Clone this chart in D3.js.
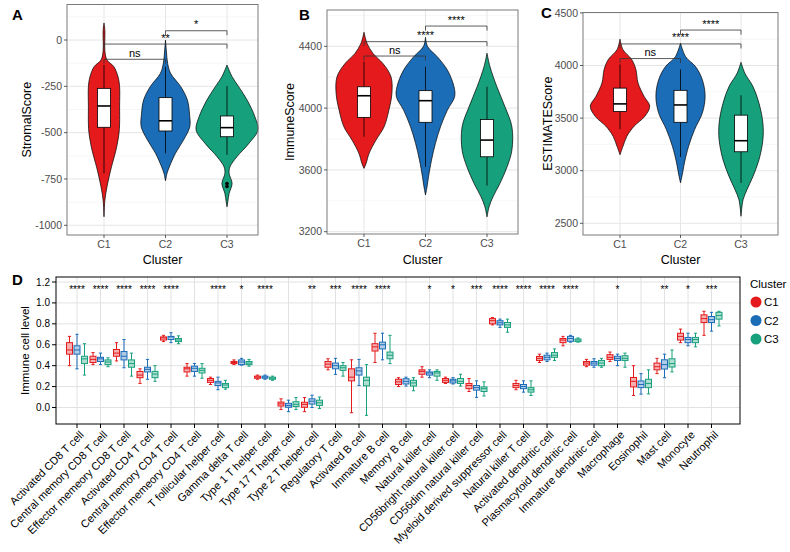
<!DOCTYPE html>
<html>
<head>
<meta charset="utf-8">
<style>
  body { margin: 0; padding: 0; background: #fff; }
  svg { display: block; font-family: Arial, "Liberation Sans", sans-serif; }
</style>
<script src="https://cdnjs.cloudflare.com/ajax/libs/d3/7.8.5/d3.min.js"></script>
</head>
<body>
<svg width="790" height="552"></svg>
<script>
  // ---------- data ----------
  const clusters = ['C1', 'C2', 'C3'];
  const colors = ['#E41A1C', '#1C6DB8', '#17A07C'];

  const stromalTicks = [0, -250, -500, -750, -1000];
  const immuneTicks = [4400, 4000, 3600, 3200];
  const estimateTicks = [4500, 4000, 3500, 3000, 2500];

  // violin outlines: [score, relative density]
  const stromalDensity = [
    [[92,0],[50,0.03],[-60,0.03],[-108,0.1],[-144,0.33],[-200,0.47],[-252,0.52],[-360,0.52],[-450,0.52],[-503,0.5],[-594,0.4],[-684,0.25],[-792,0.1],[-864,0.03],[-954,0]],
    [[0,0],[-60,0.03],[-125,0.07],[-180,0.17],[-252,0.51],[-324,0.73],[-400,0.8],[-468,0.81],[-540,0.6],[-612,0.33],[-684,0.13],[-720,0.05],[-760,0]],
    [[-135,0],[-198,0.17],[-252,0.39],[-324,0.67],[-414,0.93],[-486,1.03],[-558,0.73],[-630,0.33],[-684,0.1],[-720,0.07],[-774,0.17],[-828,0.07],[-870,0.03],[-900,0]]
  ];
  const immuneDensity = [
    [[4491,0],[4420,0.1],[4354,0.3],[4289,0.63],[4203,0.9],[4095,0.93],[3987,0.83],[3879,0.67],[3793,0.4],[3707,0.17],[3642,0.07],[3610,0]],
    [[4458,0],[4398,0.07],[4333,0.39],[4246,0.73],[4138,0.95],[4073,0.97],[3987,0.73],[3879,0.5],[3771,0.33],[3663,0.2],[3555,0.1],[3490,0.05],[3438,0]],
    [[4355,0],[4268,0.1],[4138,0.33],[4008,0.6],[3879,0.83],[3728,0.83],[3620,0.67],[3512,0.43],[3426,0.2],[3361,0.07],[3296,0]]
  ];
  const estimateDensity = [
    [[4250,0],[4150,0.1],[4057,0.39],[3962,0.53],[3835,0.6],[3708,0.8],[3613,0.99],[3518,0.83],[3423,0.47],[3328,0.23],[3232,0.1],[3152,0]],
    [[4212,0],[4084,0.17],[3990,0.5],[3863,0.73],[3708,0.82],[3550,0.73],[3391,0.47],[3232,0.27],[3074,0.13],[2979,0.07],[2884,0]],
    [[4031,0],[3926,0.13],[3800,0.4],[3641,0.6],[3452,0.73],[3294,0.73],[3104,0.6],[2946,0.4],[2820,0.2],[2725,0.07],[2567,0]]
  ];

  // boxes: [lower whisker, q1, median, q3, upper whisker]
  const stromalBox = [[-720,-471,-356,-261,-135], [-612,-491,-436,-311,-144], [-620,-522,-473,-410,-248]];
  const immuneBox = [[3815,3940,4080,4138,4300], [3620,3908,4048,4113,4268], [3498,3685,3793,3926,4138]];
  const estimateBox = [[3395,3563,3635,3785,4010], [3130,3460,3625,3764,3962], [2884,3180,3285,3528,3717]];
  const stromalOutliers = [['C3', -775], ['C3', -790]];

  // comparisons: [from, to, bracket height, label]
  const stromalSig = [['C1','C2',-104,'ns'], ['C1','C3',-22,'**'], ['C2','C3',50,'*']];
  const immuneSig = [['C1','C2',4337,'ns'], ['C1','C3',4430,'****'], ['C2','C3',4531,'****']];
  const estimateSig = [['C1','C2',4066,'ns'], ['C1','C3',4205,'****'], ['C2','C3',4337,'****']];

  const cellTypes = ['Activated CD8 T cell','Central memory CD8 T cell','Effector memeory CD8 T cell','Activated CD4 T cell',
    'Central memory CD4 T cell','Effector memeory CD4 T cell','T follicular helper cell','Gamma delta T cell',
    'Type 1 T helper cell','Type 17 T helper cell','Type 2 T helper cell','Regulatory T cell','Activated B cell',
    'Immature B cell','Memory B cell','Natural killer cell','CD56bright natural killer cell','CD56dim natural killer cell',
    'Myeloid derived suppressor cell','Natural killer T cell','Activated dendritic cell','Plasmacytoid dendritic cell',
    'Immature dendritic cell','Macrophage','Eosinophil','Mast cell','Monocyte','Neutrophil'];
  const cellSig = ['****','****','****','****','****','','****','*','****','','**','***','****','****','',
    '*','*','***','****','****','****','****','','*','','**','*','***'];
  const cellTicks = [0, 0.2, 0.4, 0.6, 0.8, 1.0, 1.2];

  const c1Stats = [[0.40,0.51,0.55,0.62,0.68],[0.41,0.43,0.46,0.49,0.525],[0.445,0.49,0.52,0.555,0.62],[0.23,0.285,0.31,0.345,0.37],
    [0.63,0.645,0.665,0.675,0.69],[0.30,0.34,0.37,0.385,0.42],[0.22,0.24,0.26,0.277,0.29],[0.41,0.42,0.43,0.44,0.455],
    [0.27,0.28,0.29,0.30,0.31],[-0.02,0.014,0.035,0.052,0.083],[-0.04,0.002,0.03,0.05,0.095],[0.36,0.385,0.415,0.44,0.466],
    [-0.05,0.255,0.29,0.37,0.456],[0.43,0.54,0.58,0.61,0.71],[0.20,0.22,0.245,0.27,0.285],[0.29,0.318,0.345,0.36,0.39],
    [0.23,0.24,0.26,0.277,0.29],[0.153,0.18,0.21,0.23,0.277],[0.79,0.80,0.83,0.85,0.86],[0.17,0.19,0.21,0.23,0.26],
    [0.43,0.45,0.47,0.488,0.51],[0.59,0.62,0.645,0.66,0.68],[0.39,0.405,0.425,0.44,0.46],[0.44,0.46,0.48,0.505,0.53],
    [0.115,0.197,0.25,0.287,0.40],[0.324,0.36,0.39,0.425,0.47],[0.62,0.645,0.68,0.71,0.75],[0.69,0.813,0.85,0.886,0.92]];
  const c2Stats = [[0.37,0.51,0.55,0.59,0.70],[0.41,0.44,0.465,0.48,0.52],[0.38,0.455,0.49,0.535,0.65],[0.27,0.34,0.365,0.385,0.46],
    [0.62,0.65,0.675,0.68,0.715],[0.30,0.345,0.375,0.395,0.42],[0.17,0.21,0.235,0.25,0.29],[0.405,0.41,0.435,0.455,0.47],
    [0.27,0.28,0.29,0.30,0.31],[-0.04,0.002,0.02,0.04,0.07],[0.0,0.033,0.06,0.083,0.118],[0.317,0.37,0.40,0.425,0.47],
    [0.21,0.31,0.35,0.38,0.46],[0.456,0.56,0.60,0.625,0.71],[0.205,0.225,0.25,0.275,0.29],[0.285,0.31,0.33,0.34,0.36],
    [0.225,0.235,0.255,0.27,0.285],[0.097,0.166,0.19,0.21,0.255],[0.766,0.79,0.81,0.83,0.845],[0.147,0.18,0.20,0.22,0.255],
    [0.44,0.456,0.48,0.50,0.52],[0.625,0.633,0.66,0.68,0.69],[0.385,0.405,0.425,0.44,0.466],[0.40,0.45,0.47,0.49,0.51],
    [0.128,0.19,0.22,0.254,0.324],[0.285,0.368,0.41,0.456,0.51],[0.59,0.62,0.65,0.67,0.71],[0.73,0.813,0.84,0.87,0.91]];
  const c3Stats = [[0.31,0.42,0.465,0.49,0.61],[0.39,0.41,0.435,0.455,0.475],[0.30,0.385,0.42,0.455,0.52],[0.25,0.285,0.32,0.345,0.40],
    [0.61,0.63,0.645,0.66,0.685],[0.28,0.33,0.355,0.375,0.42],[0.175,0.19,0.215,0.23,0.26],[0.395,0.41,0.425,0.44,0.46],
    [0.26,0.27,0.28,0.29,0.30],[-0.02,0.01,0.03,0.055,0.095],[-0.01,0.02,0.045,0.07,0.10],[0.30,0.355,0.38,0.40,0.43],
    [-0.075,0.207,0.26,0.29,0.41],[0.42,0.466,0.50,0.53,0.69],[0.16,0.205,0.235,0.26,0.285],[0.26,0.30,0.33,0.345,0.36],
    [0.205,0.23,0.25,0.277,0.318],[0.11,0.153,0.18,0.197,0.245],[0.72,0.766,0.79,0.813,0.845],[0.115,0.147,0.17,0.19,0.255],
    [0.45,0.48,0.50,0.525,0.56],[0.625,0.63,0.645,0.655,0.665],[0.385,0.40,0.425,0.45,0.47],[0.385,0.45,0.47,0.495,0.52],
    [0.13,0.19,0.23,0.27,0.36],[0.34,0.387,0.42,0.466,0.55],[0.58,0.62,0.65,0.67,0.71],[0.78,0.845,0.88,0.91,0.92]];

  // ---------- drawing ----------
  const svg = d3.select('svg');

  function violinPanel(p) {
    const g = svg.append('g');
    const x = d3.scalePoint().domain(clusters).range(p.xr);
    const y = d3.scaleLinear().domain(p.yd).range(p.yr);
    const w = d3.scaleLinear().domain([0, 1]).range([0, 30]);
    const f = p.frame;

    // grid (major, minor)
    const step = Math.abs(p.ticks[0] - p.ticks[1]);
    const lo = Math.min(...p.ticks), hi = Math.max(...p.ticks);
    const minor = d3.range(lo - step / 2, hi + step, step).filter(v => y(v) > f.y0 && y(v) < f.y1);
    g.selectAll('.mn').data(minor).enter().append('line')
      .attr('x1', f.x0).attr('x2', f.x1).attr('y1', d => y(d)).attr('y2', d => y(d))
      .attr('stroke', '#f0f0f0').attr('stroke-width', 0.6);
    g.selectAll('.mj').data(p.ticks).enter().append('line')
      .attr('x1', f.x0).attr('x2', f.x1).attr('y1', d => y(d)).attr('y2', d => y(d))
      .attr('stroke', '#e6e6e6').attr('stroke-width', 1);
    g.selectAll('.vg').data(clusters).enter().append('line')
      .attr('x1', d => x(d)).attr('x2', d => x(d)).attr('y1', f.y0).attr('y2', f.y1)
      .attr('stroke', '#e6e6e6').attr('stroke-width', 1);

    // violins
    clusters.forEach((c, i) => {
      const area = d3.area().curve(d3.curveCatmullRom)
        .y(d => y(d[0])).x0(d => x(c) - w(d[1])).x1(d => x(c) + w(d[1]));
      g.append('path').attr('d', area(p.dens[i]))
        .attr('fill', colors[i]).attr('stroke', '#000').attr('stroke-width', 0.7);
    });

    // boxes
    clusters.forEach((c, i) => {
      const b = p.box[i], cx = x(c), bw = 6.5;
      g.append('line').attr('x1', cx).attr('x2', cx).attr('y1', y(b[0])).attr('y2', y(b[4]))
        .attr('stroke', '#000').attr('stroke-width', 0.8);
      g.append('rect').attr('x', cx - bw).attr('width', bw * 2)
        .attr('y', y(b[3])).attr('height', y(b[1]) - y(b[3]))
        .attr('fill', '#fff').attr('stroke', '#000').attr('stroke-width', 0.8);
      g.append('line').attr('x1', cx - bw).attr('x2', cx + bw).attr('y1', y(b[2])).attr('y2', y(b[2]))
        .attr('stroke', '#000').attr('stroke-width', 1.6);
    });
    (p.outliers || []).forEach(o => {
      g.append('circle').attr('cx', x(o[0])).attr('cy', y(o[1])).attr('r', 1.8).attr('fill', '#000');
    });

    // significance brackets
    p.sig.forEach(s => {
      const yy = y(s[2]), tip = 4.5;
      g.append('path')
        .attr('d', `M${x(s[0])},${yy + tip}V${yy}H${x(s[1])}V${yy + tip}`)
        .attr('fill', 'none').attr('stroke', '#333').attr('stroke-width', 0.8);
      g.append('text').attr('x', (x(s[0]) + x(s[1])) / 2).attr('y', yy - 2.5)
        .attr('text-anchor', 'middle').attr('font-size', 11).text(s[3]);
    });

    // frame
    g.append('rect').attr('x', f.x0).attr('y', f.y0).attr('width', f.x1 - f.x0).attr('height', f.y1 - f.y0)
      .attr('fill', 'none').attr('stroke', '#7a7a7a').attr('stroke-width', 1);

    // axes
    g.selectAll('.yt').data(p.ticks).enter().append('line')
      .attr('x1', f.x0 - 3).attr('x2', f.x0).attr('y1', d => y(d)).attr('y2', d => y(d))
      .attr('stroke', '#333').attr('stroke-width', 0.8);
    g.selectAll('.yl').data(p.ticks).enter().append('text')
      .attr('x', f.x0 - 5).attr('y', d => y(d)).attr('dy', '0.35em')
      .attr('text-anchor', 'end').attr('font-size', 10.5).attr('fill', '#4d4d4d').text(d => d);
    g.selectAll('.xt').data(clusters).enter().append('line')
      .attr('x1', d => x(d)).attr('x2', d => x(d)).attr('y1', f.y1).attr('y2', f.y1 + 3)
      .attr('stroke', '#333').attr('stroke-width', 0.8);
    g.selectAll('.xl').data(clusters).enter().append('text')
      .attr('x', d => x(d)).attr('y', f.y1 + 13)
      .attr('text-anchor', 'middle').attr('font-size', 10.5).attr('fill', '#4d4d4d').text(d => d);
    g.append('text').attr('x', (f.x0 + f.x1) / 2).attr('y', 264)
      .attr('text-anchor', 'middle').attr('font-size', 12.5).text('Cluster');
    g.append('text').attr('transform', `translate(${p.ytx},${(f.y0 + f.y1) / 2}) rotate(-90)`)
      .attr('dy', '0.35em').attr('text-anchor', 'middle').attr('font-size', 12.5).text(p.ytitle);
    g.append('text').attr('x', p.letter[1]).attr('y', p.letter[2])
      .attr('font-size', 15).attr('font-weight', 'bold').text(p.letter[0]);
  }

  violinPanel({ frame: {x0: 67, x1: 258, y0: 4.5, y1: 235}, xr: [104, 227], yd: [-1000, 0], yr: [225.3, 40],
    ticks: stromalTicks, dens: stromalDensity, box: stromalBox, outliers: stromalOutliers, sig: stromalSig,
    ytitle: 'StromalScore', ytx: 27, letter: ['A', 12, 20] });
  violinPanel({ frame: {x0: 327, x1: 518, y0: 10, y1: 234}, xr: [364, 487], yd: [3200, 4400], yr: [231.7, 46.3],
    ticks: immuneTicks, dens: immuneDensity, box: immuneBox, sig: immuneSig,
    ytitle: 'ImmuneScore', ytx: 289.5, letter: ['B', 299, 20] });
  violinPanel({ frame: {x0: 583, x1: 778, y0: 12.5, y1: 235}, xr: [620, 741], yd: [2500, 4500], yr: [223.3, 12.9],
    ticks: estimateTicks, dens: estimateDensity, box: estimateBox, sig: estimateSig,
    ytitle: 'ESTIMATEScore', ytx: 547.5, letter: ['C', 541, 18] });

  // ---------- panel D ----------
  const D = {x0: 56, x1: 740, y0: 277, y1: 424};
  const gD = svg.append('g');
  const xD = d3.scalePoint().domain(cellTypes).range([77, 711.5]);
  const dodge = d3.scalePoint().domain(clusters).range([-7.5, 7.5]);
  const yD = d3.scaleLinear().domain([0, 1.2]).range([407.5, 282]);

  gD.selectAll('.hg').data(cellTicks).enter().append('line')
    .attr('x1', D.x0).attr('x2', D.x1).attr('y1', d => yD(d)).attr('y2', d => yD(d))
    .attr('stroke', '#e2e2e2').attr('stroke-width', 1);
  gD.selectAll('.vg').data(cellTypes).enter().append('line')
    .attr('x1', d => xD(d)).attr('x2', d => xD(d)).attr('y1', D.y0).attr('y2', D.y1)
    .attr('stroke', '#e2e2e2').attr('stroke-width', 1);

  [c1Stats, c2Stats, c3Stats].forEach((stats, k) => {
    const col = colors[k];
    const grp = gD.append('g');
    stats.forEach((b, i) => {
      const cx = xD(cellTypes[i]) + dodge(clusters[k]), bw = 3, cap = 1.6;
      grp.append('line').attr('x1', cx).attr('x2', cx).attr('y1', yD(b[0])).attr('y2', yD(b[4]))
        .attr('stroke', col).attr('stroke-width', 1);
      [b[0], b[4]].forEach(v => grp.append('line').attr('x1', cx - cap).attr('x2', cx + cap)
        .attr('y1', yD(v)).attr('y2', yD(v)).attr('stroke', col).attr('stroke-width', 1));
      grp.append('rect').attr('x', cx - bw).attr('width', bw * 2)
        .attr('y', yD(b[3])).attr('height', Math.max(yD(b[1]) - yD(b[3]), 1.5))
        .attr('fill', '#fff').attr('stroke', col).attr('stroke-width', 1);
      grp.append('rect').attr('x', cx - bw).attr('width', bw * 2)
        .attr('y', yD(b[3])).attr('height', Math.max(yD(b[1]) - yD(b[3]), 1.5))
        .attr('fill', col).attr('fill-opacity', 0.35).attr('stroke', 'none');
      grp.append('line').attr('x1', cx - bw).attr('x2', cx + bw).attr('y1', yD(b[2])).attr('y2', yD(b[2]))
        .attr('stroke', col).attr('stroke-width', 1);
    });
  });

  gD.selectAll('.sig').data(cellTypes).enter().append('text')
    .attr('x', d => xD(d)).attr('y', 293).attr('text-anchor', 'middle')
    .attr('font-size', 10).text((d, i) => cellSig[i]);

  gD.append('rect').attr('x', D.x0).attr('y', D.y0).attr('width', D.x1 - D.x0).attr('height', D.y1 - D.y0)
    .attr('fill', 'none').attr('stroke', '#000').attr('stroke-width', 1);

  gD.selectAll('.yt').data(cellTicks).enter().append('line')
    .attr('x1', D.x0 - 4).attr('x2', D.x0).attr('y1', d => yD(d)).attr('y2', d => yD(d))
    .attr('stroke', '#000').attr('stroke-width', 1);
  gD.selectAll('.yl').data(cellTicks).enter().append('text')
    .attr('x', D.x0 - 6).attr('y', d => yD(d)).attr('dy', '0.35em').attr('text-anchor', 'end')
    .attr('font-size', 10).text(d => d.toFixed(1));
  gD.selectAll('.xt').data(cellTypes).enter().append('line')
    .attr('x1', d => xD(d)).attr('x2', d => xD(d)).attr('y1', D.y1).attr('y2', D.y1 + 4)
    .attr('stroke', '#000').attr('stroke-width', 1);
  gD.selectAll('.xl').data(cellTypes).enter().append('text')
    .attr('transform', d => `translate(${xD(d) + 2},${D.y1 + 6}) rotate(-45)`)
    .attr('dy', '0.71em').attr('text-anchor', 'end').attr('font-size', 11).text(d => d);
  gD.append('text').attr('transform', `translate(25,${(D.y0 + D.y1) / 2}) rotate(-90)`)
    .attr('dy', '0.35em').attr('text-anchor', 'middle').attr('font-size', 11.5).text('Immune cell level');
  gD.append('text').attr('x', 12).attr('y', 285).attr('font-size', 15).attr('font-weight', 'bold').text('D');

  // legend
  const lg = svg.append('g').attr('transform', 'translate(750,284)');
  lg.append('text').attr('y', 0).attr('dy', '0.35em').attr('font-size', 11.5).text('Cluster');
  clusters.forEach((c, i) => {
    lg.append('circle').attr('cx', 6).attr('cy', 18 + i * 18.5).attr('r', 5.5).attr('fill', colors[i]);
    lg.append('text').attr('x', 14).attr('y', 18 + i * 18.5).attr('dy', '0.35em').attr('font-size', 11.5).text(c);
  });
</script>
</body>
</html>
